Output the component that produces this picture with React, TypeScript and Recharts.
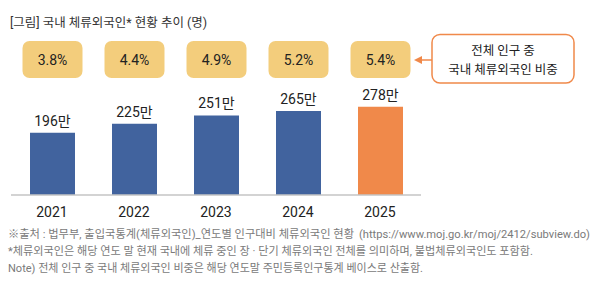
import React from 'react';
import { BarChart, Bar, XAxis, YAxis, LabelList, Cell } from 'recharts';

const years = ['2021', '2022', '2023', '2024', '2025'];
const residents = [196, 225, 251, 265, 278]; // 만 명
const shares = [3.8, 4.4, 4.9, 5.2, 5.4]; // %
const barColors = ['#41639E', '#41639E', '#41639E', '#41639E', '#F0894A'];

const title = '[그림] 국내 체류외국인* 현황 추이 (명)';
const calloutLines = ['전체 인구 중', '국내 체류외국인 비중'];
const sourceLabel = '※출처 : 법무부, 출입국통계(체류외국인)_연도별 인구대비 체류외국인 현황';
const sourceUrl = '(https://www.moj.go.kr/moj/2412/subview.do)';
const note1 = '*체류외국인은 해당 연도 말 현재 국내에 체류 중인 장 · 단기 체류외국인 전체를 의미하며, 불법체류외국인도 포함함.';
const note2 = 'Note) 전체 인구 중 국내 체류외국인 비중은 해당 연도말 주민등록인구통계 베이스로 산출함.';

const data = years.map((y, i) => ({ year: y, value: residents[i], pct: shares[i] }));

const FONT = "Roboto, 'Noto Sans CJK KR', sans-serif";

const PctBox = (props: any) => {
  const { x, width, value } = props;
  const cx = Number(x) + Number(width) / 2;
  const w = 60;
  const h = 37;
  const top = 41;
  return (
    <g>
      <rect x={cx - w / 2} y={top} width={w} height={h} rx={7} ry={7} fill="#F3CD7C" />
      <text x={cx} y={top + h / 2 + 5} textAnchor="middle" fontSize={14} fill="#222">
        {Number(value).toFixed(1)}%
      </text>
    </g>
  );
};

export default function App() {
  const footStyle = { fontSize: 11, fill: '#7a7a7a', fontFamily: FONT } as const;
  return (
    <div
      style={{
        position: 'absolute',
        left: 0,
        top: 0,
        width: 605,
        height: 289,
        background: '#fff',
        fontFamily: FONT,
        overflow: 'hidden',
      }}
    >
      <div
        style={{
          position: 'absolute',
          left: 10,
          top: 14,
          fontSize: 12.5,
          color: '#333',
          whiteSpace: 'nowrap',
          lineHeight: '17px',
        }}
      >
        {title}
      </div>
      <BarChart
        width={605}
        height={289}
        data={data}
        margin={{ top: 84, right: 184, left: 11, bottom: 64 }}
        style={{ position: 'absolute', left: 0, top: 0 }}
      >
        <YAxis hide domain={[0, 350]} />
        <XAxis
          dataKey="year"
          height={30}
          axisLine={{ stroke: '#C4C4C4', strokeWidth: 1.5 }}
          tickLine={false}
          tickSize={6}
          tickMargin={6}
          tick={{ fontSize: 14, fill: '#222' }}
        />
        <Bar dataKey="value" barSize={45} isAnimationActive={false}>
          {data.map((d, i) => (
            <Cell key={d.year} fill={barColors[i]} />
          ))}
          <LabelList
            dataKey="value"
            position="top"
            offset={7}
            formatter={(v: any) => `${v}만`}
            style={{ fontSize: 14, fill: '#222' }}
          />
          <LabelList dataKey="pct" content={PctBox} />
        </Bar>
      </BarChart>
      <svg width={605} height={289} style={{ position: 'absolute', left: 0, top: 0, pointerEvents: 'none' }}>
        <line x1={432} y1={60} x2={420} y2={60} stroke="#F0894A" strokeWidth={1.5} />
        <polygon points="414,60 422,56 422,64" fill="#F0894A" />
        <rect x={432} y={34.5} width={142} height={48.5} rx={8} ry={8} fill="#fff" stroke="#F0894A" strokeWidth={1.5} />
        {calloutLines.map((t, i) => (
          <text key={t} x={503} y={55 + i * 18.5} textAnchor="middle" fontSize={12.5} fill="#222" fontFamily={FONT}>
            {t}
          </text>
        ))}
        <text x={8} y={238} textLength={346} lengthAdjust="spacingAndGlyphs" style={footStyle}>
          {sourceLabel}
        </text>
        <text x={359} y={238} textLength={231} lengthAdjust="spacingAndGlyphs" style={footStyle}>
          {sourceUrl}
        </text>
        <text x={8} y={255} textLength={525} lengthAdjust="spacingAndGlyphs" style={footStyle}>
          {note1}
        </text>
        <text x={8} y={272} textLength={415} lengthAdjust="spacingAndGlyphs" style={footStyle}>
          {note2}
        </text>
      </svg>
    </div>
  );
}
